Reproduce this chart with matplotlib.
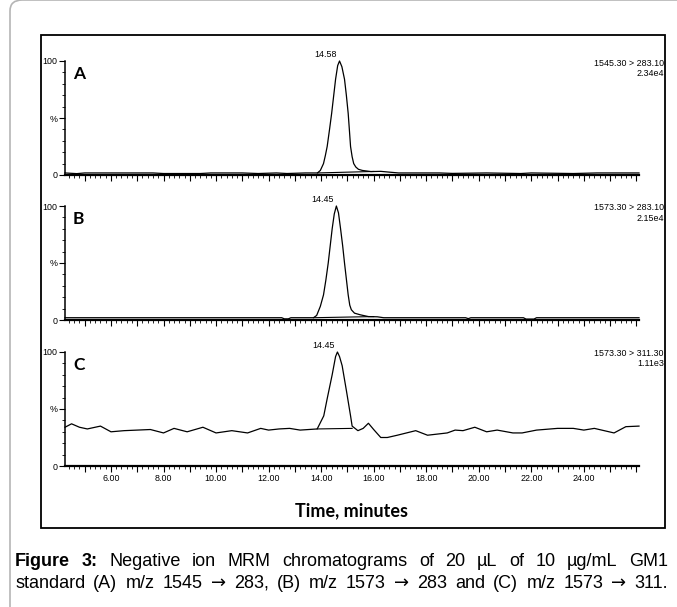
import numpy as np
import matplotlib
matplotlib.use("Agg")
import matplotlib.pyplot as plt
from matplotlib.patches import Rectangle, FancyBboxPatch
from matplotlib.ticker import MultipleLocator, FixedLocator, FixedFormatter

W, H = 677, 607

# ---- data (time [min], relative intensity [%]) ----
tA = [4.25, 4.7, 5.0, 5.7, 7.6, 8.0, 9.4, 9.8, 11.0, 11.6, 12.3, 12.7, 13.4, 13.86,
      13.97, 14.09, 14.16, 14.23, 14.32, 14.40, 14.48, 14.55, 14.63, 14.70, 14.79, 14.89,
      14.96, 15.03, 15.08, 15.12, 15.18, 15.24, 15.32, 15.42, 15.57, 15.9, 16.27, 16.6, 16.95,
      18.5, 19.0, 20.3, 21.6, 22.0, 23.6, 24.5, 26.1]
yA = [1.8, 1.2, 1.8, 1.8, 1.8, 1.3, 1.3, 1.8, 1.8, 1.3, 1.8, 1.3, 1.8, 1.8,
      4, 10, 17, 25, 40, 54, 70, 84, 96, 100, 95, 84,
      70, 54, 38, 25, 16, 10, 7, 5, 4, 3, 3.2, 2.5, 1.8,
      1.8, 1.4, 1.8, 1.3, 1.8, 1.3, 1.8, 1.8]
tA_base = [13.86, 16.0]
yA_base = [1.8, 3.1]

tB = [4.25, 12.5, 12.6, 12.75, 12.85, 13.71, 13.83, 13.97, 14.09, 14.18, 14.27, 14.35,
      14.42, 14.50, 14.58, 14.66, 14.74, 14.82, 14.89, 14.96, 15.03, 15.09, 15.15, 15.27,
      15.50, 15.8, 16.14, 16.38, 19.5, 19.6, 19.7, 21.7, 21.8, 22.1, 22.2, 26.1]
yB = [2.0, 2.0, 1.0, 1.0, 2.0, 2.0, 4, 12, 22, 35, 50, 66,
      80, 93, 100, 94, 80, 65, 50, 36, 22, 13, 9, 6,
      4.5, 3, 2.8, 2.0, 2.0, 1.2, 2.0, 2.0, 0.8, 0.8, 2.0, 2.0]
tB_base = [13.71, 16.0]
yB_base = [2.0, 3.0]

tC = [4.25, 4.5, 4.8, 5.1, 5.6, 6.0, 6.5, 7.0, 7.5, 8.0, 8.4, 8.9, 9.5, 10.0, 10.6,
      11.2, 11.7, 12.0, 12.4, 12.8, 13.2, 13.85, 13.97, 14.10, 14.23, 14.42, 14.55, 14.62,
      14.70, 14.80, 14.97, 15.12, 15.18, 15.40, 15.60, 15.80, 16.0, 16.27, 16.52, 16.9,
      17.6, 18.05, 18.8, 19.1, 19.4, 19.85, 20.3, 20.7, 21.3, 21.65, 22.2, 23.0, 23.6,
      24.0, 24.4, 25.15, 25.6, 26.1]
yC = [34, 37, 34, 32.5, 35, 30, 31, 31.5, 32, 29, 33, 30, 34, 29, 31,
      29, 33, 31.5, 32.5, 33, 31.5, 32.5, 38, 44, 59, 80, 96, 100,
      96, 88, 65, 44, 35, 31, 33, 37.5, 32, 25, 25, 27,
      31, 27, 29, 31.5, 31, 34, 30, 31.5, 29, 29, 31.5, 33, 33,
      31.5, 33, 29, 34.5, 35]
tC_base = [13.85, 15.18]
yC_base = [32.5, 33]

panels = ["A", "B", "C"]
apex = ["14.58", "14.45", "14.45"]
apex_t = [14.70, 14.58, 14.62]
mrm = ["1545.30 > 283.10", "1573.30 > 283.10", "1573.30 > 311.30"]
scale = ["2.34e4", "2.15e4", "1.11e3"]

narrow = ["Liberation Sans Narrow", "Liberation Sans", "DejaVu Sans"]


def fx(px):
    return px / W


def fy(py):
    return 1 - py / H


fig = plt.figure(figsize=(W / 100, H / 100), dpi=100)

# page frame and the inner figure box
fig.patches.append(FancyBboxPatch((fx(10), fy(700)), fx(720), 700 / H,
                                  boxstyle="round,pad=0,rounding_size=0.018",
                                  transform=fig.transFigure, fill=False,
                                  ec="#b5b5b5", lw=1.2))
fig.patches.append(Rectangle((fx(41), fy(528)), fx(665 - 41), (528 - 35) / H,
                             transform=fig.transFigure, fill=False, ec="black", lw=1.3))

tops = [61, 206, 352]
data = [(tA, yA, tA_base, yA_base), (tB, yB, tB_base, yB_base), (tC, yC, tC_base, yC_base)]

for i, top in enumerate(tops):
    ax = fig.add_axes([fx(65), fy(top + 114), fx(639 - 65), 114 / H])
    t, y, tb, yb = data[i]
    ax.plot(t, y, color="black", lw=0.9, clip_on=False)
    ax.plot(tb, yb, color="black", lw=0.8, clip_on=False)
    ax.set_xlim(4.25, 26.1)
    ax.set_ylim(0, 100)
    for s in ["top", "right"]:
        ax.spines[s].set_visible(False)
    ax.spines["left"].set_linewidth(1.1)
    ax.spines["bottom"].set_linewidth(1.6)
    ax.patch.set_alpha(0)

    ax.yaxis.set_major_locator(FixedLocator([0, 50, 100]))
    ax.yaxis.set_major_formatter(FixedFormatter(["0", "%", "100"]))
    ax.yaxis.set_minor_locator(MultipleLocator(10))
    labels = ["%.2f" % v if (v % 2 == 0 and 5 < v < 25) else "" for v in range(4, 27)]
    ax.xaxis.set_major_locator(FixedLocator(list(range(4, 27))))
    ax.xaxis.set_major_formatter(FixedFormatter(labels))
    ax.xaxis.set_minor_locator(MultipleLocator(0.2))
    ax.tick_params(which="major", length=4, width=0.8, pad=1.5, labelsize=6.4, color="black")
    ax.tick_params(which="minor", length=2, width=0.6)
    if i < 2:
        ax.tick_params(axis="x", labelbottom=False)
    for lab in ax.get_xticklabels() + ax.get_yticklabels():
        lab.set_family(narrow)

    ax.text(0.014, 0.89, panels[i], transform=ax.transAxes, fontsize=12.5,
            fontweight="bold", family=["Lato", "DejaVu Sans"], va="center")
    ax.text(apex_t[i] - 0.1, 101.5, apex[i], fontsize=6.4, family=narrow,
            ha="right", va="bottom")

    fig.text(fx(664), fy(top + 2), mrm[i], fontsize=6.4, family=narrow, ha="right", va="center")
    fig.text(fx(664), fy(top + 12), scale[i], fontsize=6.4, family=narrow, ha="right", va="center")

fig.text(fx(352), fy(511), "Time, minutes", fontsize=13, fontweight="bold",
         family=["Lato", "DejaVu Sans"], ha="center", va="center")

# caption, justified between the page margins
cap_font = ["Liberation Sans", "DejaVu Sans"]
cap_size = 13
line1 = [("Figure", "bold"), ("3:", "bold"), ("Negative", "normal"), ("ion", "normal"),
         ("MRM", "normal"), ("chromatograms", "normal"), ("of", "normal"), ("20", "normal"),
         ("µL", "normal"), ("of", "normal"), ("10", "normal"), ("µg/mL", "normal"),
         ("GM1", "normal")]
line2 = "standard (A) m/z 1545 → 283, (B) m/z 1573 → 283 and (C) m/z 1573 → 311."

renderer = fig.canvas.get_renderer()


def make_words(words, y, size):
    objs = []
    for w, wt in words:
        fam = ["DejaVu Sans"] if w == "→" else cap_font
        objs.append(fig.text(0, fy(y), w, fontsize=size, fontweight=wt, family=fam,
                             va="center", ha="left"))
    return objs


def justify(objs, x0, x1):
    widths = [o.get_window_extent(renderer).width for o in objs]
    gap = (x1 - x0 - sum(widths)) / (len(objs) - 1)
    x = x0
    for o, w in zip(objs, widths):
        o.set_x(fx(x))
        x += w + gap


words2 = [(w, "normal") for w in line2.split(" ")]
justify(make_words(line1, 562, cap_size), 15, 668)
justify(make_words(words2, 583, cap_size), 15, 668)

fig.savefig("out.png", dpi=100)
